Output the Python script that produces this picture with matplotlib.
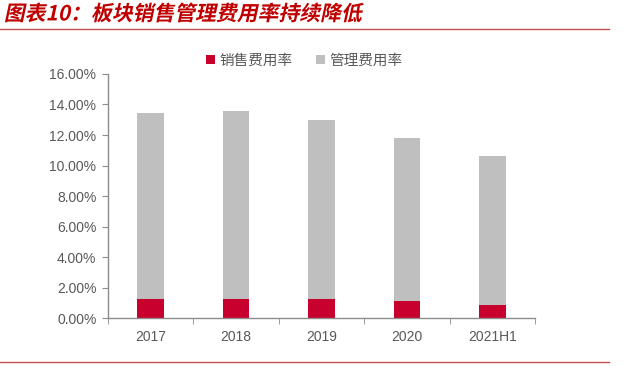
import matplotlib
matplotlib.use("Agg")
from matplotlib import pyplot as plt
from matplotlib.lines import Line2D
from matplotlib.ticker import FuncFormatter
from matplotlib import patheffects
from matplotlib.transforms import Affine2D
import numpy as np

plt.rcParams['font.family'] = ['Liberation Sans', 'Noto Sans CJK SC', 'DejaVu Sans']

# data
years = ["2017", "2018", "2019", "2020", "2021H1"]
sales_rate = [1.25, 1.25, 1.29, 1.12, 0.89]        # 销售费用率 (%)
admin_rate = [12.17, 12.33, 11.70, 10.70, 9.73]    # 管理费用率 (%)
yticks = [0, 2, 4, 6, 8, 10, 12, 14, 16]

red = "#C8002D"
grey = "#BFBFBF"
txt = "#595959"
axis_col = "#8C8C8C"


# CJK font has no italic face, so slant the glyph outlines
class Slant(patheffects.AbstractPathEffect):
    def draw_path(self, renderer, gc, tpath, affine, rgbFace=None):
        renderer.draw_path(gc, tpath, Affine2D().skew_deg(12, 0) + affine, rgbFace)


fig = plt.figure(figsize=(6.4, 3.66), dpi=100)
ax = fig.add_axes([0.168, 0.130, 0.668, 0.668])

x = np.arange(len(years))
w = 0.31
ax.bar(x, sales_rate, w, color=red, label="销售费用率")
ax.bar(x, admin_rate, w, bottom=sales_rate, color=grey, label="管理费用率")

ax.set_xlim(-0.5, len(years) - 0.5)
ax.set_ylim(0, 16)
ax.set_yticks(yticks)
ax.yaxis.set_major_formatter(FuncFormatter(lambda v, p: "%.2f%%" % v))
ax.set_xticks(x)
ax.set_xticklabels(years)
ax.set_xticks(np.arange(-0.5, len(years)), minor=True)
ax.tick_params(axis='x', which='major', length=0, pad=8, labelsize=10, labelcolor=txt)
ax.tick_params(axis='x', which='minor', length=4, direction='out', color=axis_col)
ax.tick_params(axis='y', length=4, direction='out', color=axis_col, labelsize=10,
               labelcolor=txt, pad=4)

for s in ["top", "right"]:
    ax.spines[s].set_visible(False)
for s in ["left", "bottom"]:
    ax.spines[s].set_color(axis_col)
    ax.spines[s].set_linewidth(1.0)

leg = ax.legend(loc="center", bbox_to_anchor=(0.46, 1.055), ncol=2, frameon=False,
                handlelength=0.6, handleheight=0.6, handletextpad=0.3,
                columnspacing=1.6,
                prop={'family': ['Noto Sans CJK SC', 'DejaVu Sans'], 'size': 10.5})
for t in leg.get_texts():
    t.set_color(txt)

# header
fig.text(0.006, 0.962, "图表10：板块销售管理费用率持续降低", color="#C00000",
         fontsize=15, fontweight="bold", va="center", ha="left",
         family=['Noto Sans CJK SC', 'DejaVu Sans'],
         path_effects=[Slant()])
fig.add_artist(Line2D([0, 0.951], [0.921, 0.921], color="#C0504D", lw=1.0,
                      transform=fig.transFigure))
fig.add_artist(Line2D([0, 0.951], [0.010, 0.010], color="#C0504D", lw=1.0,
                      transform=fig.transFigure))

fig.savefig("out.png", dpi=100)
